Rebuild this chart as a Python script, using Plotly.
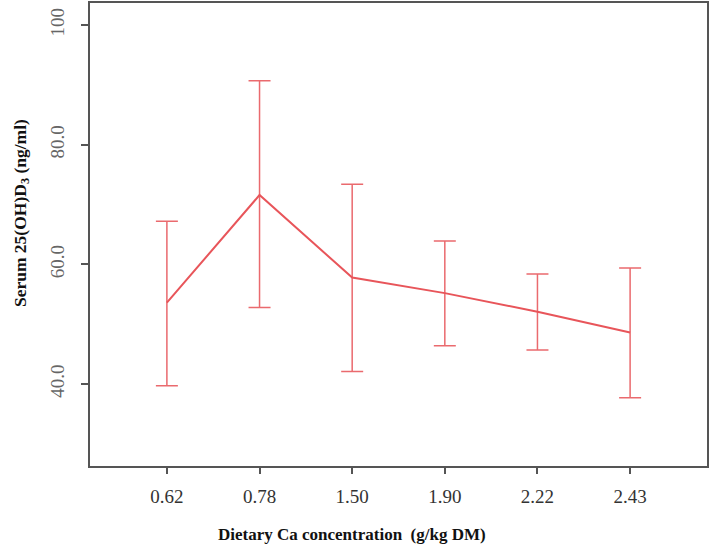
import plotly.graph_objects as go

categories = ["0.62", "0.78", "1.50", "1.90", "2.22", "2.43"]
means = [53.6, 71.6, 57.8, 55.2, 52.1, 48.6]
upper = [67.2, 90.7, 73.4, 63.9, 58.4, 59.4]
lower = [39.7, 52.8, 42.1, 46.4, 45.7, 37.7]
y_ticks = [40, 60, 80, 100]
y_ticklabels = ["40.0", "60.0", "80.0", "100"]

xpos = list(range(1, len(categories) + 1))
err_plus = [u - m for u, m in zip(upper, means)]
err_minus = [m - l for m, l in zip(means, lower)]

RED = "#EA6A6E"
AXC = "#555555"
FONT = "Liberation Serif"

fig = go.Figure()
fig.add_trace(go.Scatter(
    x=xpos, y=means, mode="lines",
    line=dict(color="#E8555A", width=2),
    error_y=dict(type="data", symmetric=False, array=err_plus, arrayminus=err_minus,
                 color=RED, thickness=1.5, width=11),
    showlegend=False, hoverinfo="skip",
))

fig.update_layout(
    width=710, height=556,
    margin=dict(l=90, r=3, t=3, b=90, autoexpand=False),
    paper_bgcolor="white", plot_bgcolor="white",
    font=dict(family=FONT, size=19, color="#444444"),
    xaxis=dict(range=[0.17, 6.83], tickvals=xpos, ticktext=categories,
               showgrid=False, zeroline=False, showline=True, mirror=True,
               linecolor=AXC, linewidth=1.5, ticks="outside", ticklen=6,
               tickcolor=AXC, tickwidth=1.5, ticklabelstandoff=6, automargin=False,
               tickfont=dict(family=FONT, size=19, color="#333333")),
    yaxis=dict(range=[26.3, 103.7], tickvals=y_ticks, ticktext=y_ticklabels,
               showgrid=False, zeroline=False, showline=True, mirror=True,
               linecolor=AXC, linewidth=1.5, ticks="outside", ticklen=7,
               tickcolor=AXC, tickwidth=1.5, tickangle=-90, ticklabelstandoff=10,
               automargin=False,
               tickfont=dict(family=FONT, size=19, color="#666666")),
    annotations=[
        dict(text="<b>Dietary Ca concentration  (g/kg DM)</b>", xref="paper", yref="paper",
             x=0.424, y=-0.149, xanchor="center", yanchor="middle", showarrow=False,
             font=dict(family=FONT, size=17, color="#111111")),
        dict(text="<b>Serum 25(OH)D<sub>3</sub> (ng/ml)</b>", xref="paper", yref="paper",
             x=-0.112, y=0.546, xanchor="center", yanchor="middle", showarrow=False,
             textangle=-90, font=dict(family=FONT, size=17.5, color="#111111")),
    ],
)

fig.write_html(
    "out.html",
    config={"responsive": False, "displayModeBar": False},
    post_script="document.body.style.margin='0';document.body.style.overflow='hidden';",
)
